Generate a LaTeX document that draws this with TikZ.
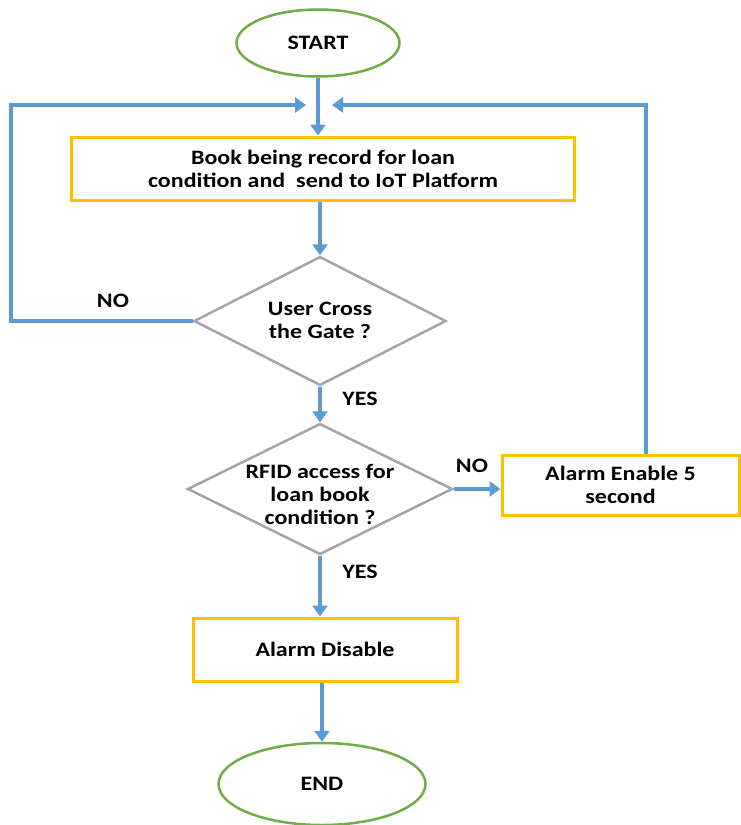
\documentclass[tikz,border=0pt]{standalone}
\usepackage{fontspec}
\setmainfont[FakeStretch=1.17]{Carlito}
\usetikzlibrary{shapes.geometric,arrows.meta}
\definecolor{flowblue}{RGB}{91,155,213}
\definecolor{boxgold}{RGB}{255,192,0}
\definecolor{termgreen}{RGB}{112,173,71}
\definecolor{decgray}{RGB}{165,165,165}
\tikzstyle{term}=[ellipse,draw=termgreen,line width=2.5pt,inner sep=0pt]
\tikzstyle{proc}=[rectangle,draw=boxgold,line width=3pt,align=center,inner sep=0pt]
\tikzstyle{dec}=[diamond,draw=decgray,line width=2.5pt,inner sep=0pt]
\tikzstyle{arr}=[draw=flowblue,line width=4pt,-{Triangle[length=11pt,width=15pt]}]
\tikzstyle{lbl}=[inner sep=0pt]

\begin{document}
\begin{tikzpicture}[x=1pt,y=1pt,font=\fontsize{20.5}{23}\selectfont\bfseries]
\useasboundingbox (0,0) rectangle (740,-825);
\node[term,minimum width=163pt,minimum height=67pt] (start) at (318,-43) {START};
\node[proc,minimum width=503pt,minimum height=63pt] (rec) at (323,-168.5) {Book being record for loan\\condition and\ \ send to IoT Platform};
\node[dec,minimum width=252pt,minimum height=129pt] (gate) at (320,-321) {};
\node[lbl,align=center] (gatetxt) at (320,-320) {User Cross\\the Gate ?};
\node[dec,minimum width=265pt,minimum height=131pt] (rfid) at (320,-489) {};
\node[lbl,align=center] (rfidtxt) at (320,-494) {RFID access for\\loan book\\condition ?};
\node[proc,minimum width=237pt,minimum height=60pt] (alarmon) at (620.5,-485) {Alarm Enable 5\\second};
\node[proc,minimum width=264pt,minimum height=63pt] (alarmoff) at (325,-649.5) {Alarm Disable};
\node[term,minimum width=207pt,minimum height=82pt] (end) at (322,-784) {END};
\coordinate (joinl) at (306,-105);
\coordinate (joinr) at (332,-105);
% labels
\node[lbl] (nogate) at (113,-301) {NO};
\node[lbl] (yesgate) at (360,-399) {YES};
\node[lbl] (norfid) at (472,-466) {NO};
\node[lbl] (yesrfid) at (360,-572) {YES};
% connectors
\draw[arr] (start.south) -- (start.south |- rec.north);
\draw[arr] (rec.south -| gate) -- (gate.north);
\draw[arr] (gate.west) -- ++(-182,0) |- (joinl);
\draw[arr] ([xshift=25pt]alarmon.north) |- (joinr);
\draw[arr] (gate.south) -- (rfid.north);
\draw[arr] (rfid.east) -- (rfid.east -| alarmon.west);
\draw[arr] (rfid.south) -- (rfid.south |- alarmoff.north);
\draw[arr] (end.north |- alarmoff.south) -- (end.north);
\end{tikzpicture}
\end{document}
